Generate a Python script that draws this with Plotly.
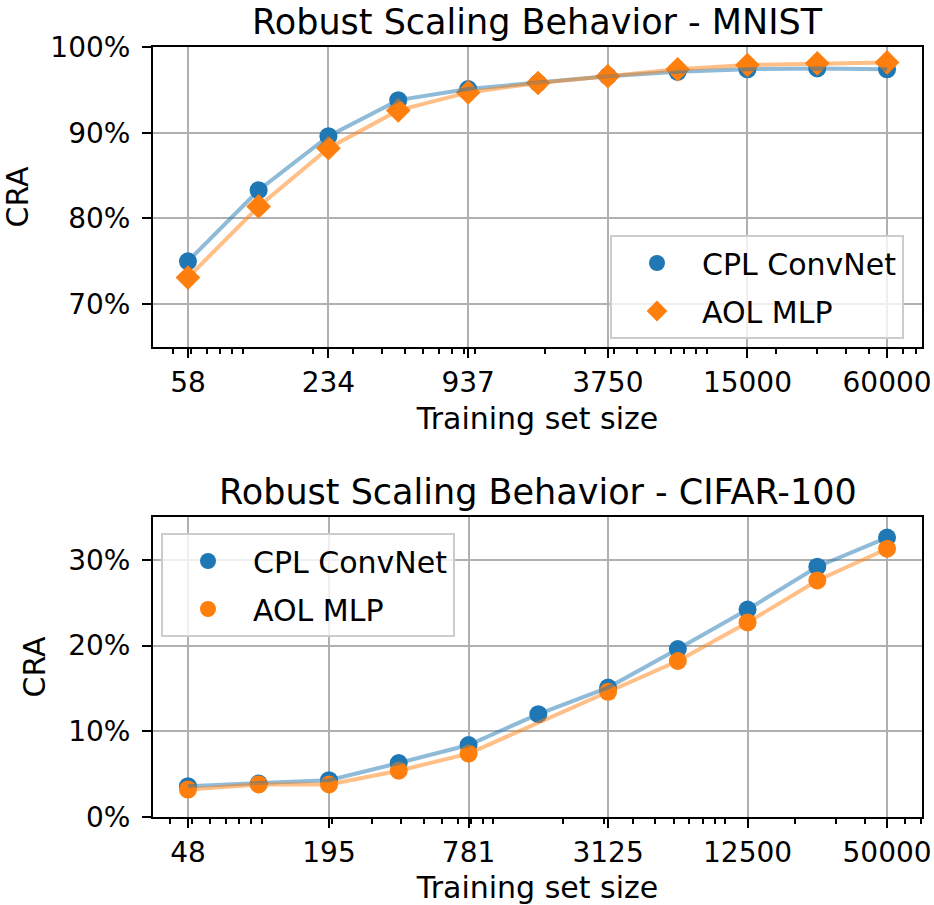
import math
import plotly.graph_objects as go

# ---------------- data ----------------
mnist_sizes = [58, 117, 234, 468, 937, 1875, 3750, 7500, 15000, 30000, 60000]
mnist_cpl = [75.0, 83.3, 89.6, 93.8, 95.1, 95.8, 96.6, 97.1, 97.4, 97.5, 97.4]
mnist_aol = [73.1, 81.4, 88.2, 92.6, 94.7, 95.8, 96.6, 97.4, 97.9, 98.1, 98.2]
mnist_xticks = [58, 234, 937, 3750, 15000, 60000]
mnist_yticks = [70, 80, 90, 100]

cifar_sizes = [48, 97, 195, 390, 781, 1562, 3125, 6250, 12500, 25000, 50000]
cifar_cpl = [3.6, 3.9, 4.3, 6.3, 8.4, 12.0, 15.1, 19.6, 24.2, 29.2, 32.6]
cifar_aol = [3.2, 3.8, 3.8, 5.4, 7.4, None, 14.6, 18.2, 22.7, 27.6, 31.3]
cifar_xticks = [48, 195, 781, 3125, 12500, 50000]
cifar_yticks = [0, 10, 20, 30]

series_names = ["CPL ConvNet", "AOL MLP"]
blue = "#1f77b4"
orange = "#ff7f0e"
blue_line = "rgba(31,119,180,0.5)"
orange_line = "rgba(255,127,14,0.5)"

FONT = "DejaVu Sans"
FS_TICK = 28
FS_LABEL = 30
FS_TITLE = 35

minor_vals = [m * 10 ** k for k in range(1, 6) for m in range(1, 10)]


def log_range(vals):
    lo, hi = math.log10(min(vals)), math.log10(max(vals))
    pad = (hi - lo) * 0.05
    return [lo - pad, hi + pad]


fig = go.Figure()

# ---- MNIST (top) ----
fig.add_trace(go.Scatter(x=mnist_sizes, y=mnist_cpl, mode="markers", name=series_names[0],
                         marker=dict(symbol="circle", size=18, color=blue),
                         xaxis="x", yaxis="y", legend="legend", legendgroup="a1"))
fig.add_trace(go.Scatter(x=mnist_sizes, y=mnist_aol, mode="markers", name=series_names[1],
                         marker=dict(symbol="diamond", size=19, color=orange),
                         xaxis="x", yaxis="y", legend="legend", legendgroup="a2"))
fig.add_trace(go.Scatter(x=mnist_sizes, y=mnist_cpl, mode="lines", showlegend=False,
                         line=dict(color=blue_line, width=4), xaxis="x", yaxis="y"))
fig.add_trace(go.Scatter(x=mnist_sizes, y=mnist_aol, mode="lines", showlegend=False,
                         line=dict(color=orange_line, width=4), xaxis="x", yaxis="y"))

# ---- CIFAR-100 (bottom) ----
fig.add_trace(go.Scatter(x=cifar_sizes, y=cifar_cpl, mode="markers", name=series_names[0],
                         marker=dict(symbol="circle", size=18, color=blue),
                         xaxis="x2", yaxis="y2", legend="legend2", legendgroup="b1"))
fig.add_trace(go.Scatter(x=cifar_sizes, y=cifar_aol, mode="markers", name=series_names[1],
                         marker=dict(symbol="circle", size=18, color=orange),
                         xaxis="x2", yaxis="y2", legend="legend2", legendgroup="b2"))
fig.add_trace(go.Scatter(x=cifar_sizes, y=cifar_cpl, mode="lines", showlegend=False,
                         line=dict(color=blue_line, width=4), xaxis="x2", yaxis="y2"))
fig.add_trace(go.Scatter(x=cifar_sizes, y=cifar_aol, mode="lines", showlegend=False, connectgaps=True,
                         line=dict(color=orange_line, width=4), xaxis="x2", yaxis="y2"))

W, H = 934, 905
ml, mr, mt, mb = 153, 12, 47, 88
ph = H - mt - mb
top_dom = [1 - 300 / ph, 1]
bot_dom = [0, 300 / ph]


def xaxis_common(ticks, rng, anchor):
    return dict(type="log", range=rng, tickmode="array", tickvals=ticks,
                ticktext=[str(t) for t in ticks], ticks="outside", ticklen=9, tickwidth=2,
                tickcolor="black", showline=True, linecolor="black", linewidth=2, mirror=True,
                showgrid=True, gridcolor="#b0b0b0", gridwidth=2, zeroline=False,
                tickfont=dict(family=FONT, size=FS_TICK, color="black"),
                minor=dict(tickmode="array", tickvals=minor_vals, ticks="outside", ticklen=5,
                           tickwidth=1.5, tickcolor="black", showgrid=False),
                title=dict(text="Training set size", font=dict(family=FONT, size=FS_LABEL, color="black"),
                           standoff=10),
                anchor=anchor, domain=[0, 1], automargin=False)


def yaxis_common(ticks, rng, dom, anchor):
    return dict(range=rng, tickmode="array", tickvals=ticks,
                ticktext=[f"{t}%" for t in ticks],
                ticks="outside", ticklen=9, tickwidth=2, tickcolor="black",
                showline=True, linecolor="black", linewidth=2, mirror=True,
                showgrid=True, gridcolor="#b0b0b0", gridwidth=2, zeroline=False,
                tickfont=dict(family=FONT, size=FS_TICK, color="black"), ticklabelstandoff=6,
                title=dict(text="CRA", font=dict(family=FONT, size=FS_LABEL, color="black"), standoff=14),
                domain=dom, anchor=anchor, automargin=False)


legend_common = dict(bgcolor="rgba(255,255,255,0.8)", bordercolor="#cccccc", borderwidth=2,
                     font=dict(family=FONT, size=FS_LABEL, color="black"), itemsizing="trace",
                     itemwidth=80, tracegroupgap=6, xanchor="left", yanchor="top")

fig.update_layout(
    width=W, height=H,
    margin=dict(l=ml, r=mr, t=mt, b=mb),
    paper_bgcolor="white", plot_bgcolor="white",
    font=dict(family=FONT, size=FS_TICK, color="black"),
    xaxis=xaxis_common(mnist_xticks, log_range(mnist_sizes), "y"),
    yaxis=yaxis_common(mnist_yticks, [65, 100], top_dom, "x"),
    xaxis2=xaxis_common(cifar_xticks, log_range(cifar_sizes), "y2"),
    yaxis2=yaxis_common(cifar_yticks, [0, 35], bot_dom, "x2"),
    legend=dict(legend_common, x=(610 - ml) / (W - ml - mr), y=1 - (235 - mt) / ph),
    legend2=dict(legend_common, x=(161 - ml) / (W - ml - mr), y=1 - (533 - mt) / ph),
    showlegend=True,
    annotations=[
        dict(text="Robust Scaling Behavior - MNIST", xref="x domain", yref="y domain", x=0.5, y=1,
             xanchor="center", yanchor="bottom", yshift=3, showarrow=False,
             font=dict(family=FONT, size=FS_TITLE, color="black")),
        dict(text="Robust Scaling Behavior - CIFAR-100", xref="x2 domain", yref="y2 domain", x=0.5, y=1,
             xanchor="center", yanchor="bottom", yshift=3, showarrow=False,
             font=dict(family=FONT, size=FS_TITLE, color="black")),
    ],
)

fig.write_html("out.html")
